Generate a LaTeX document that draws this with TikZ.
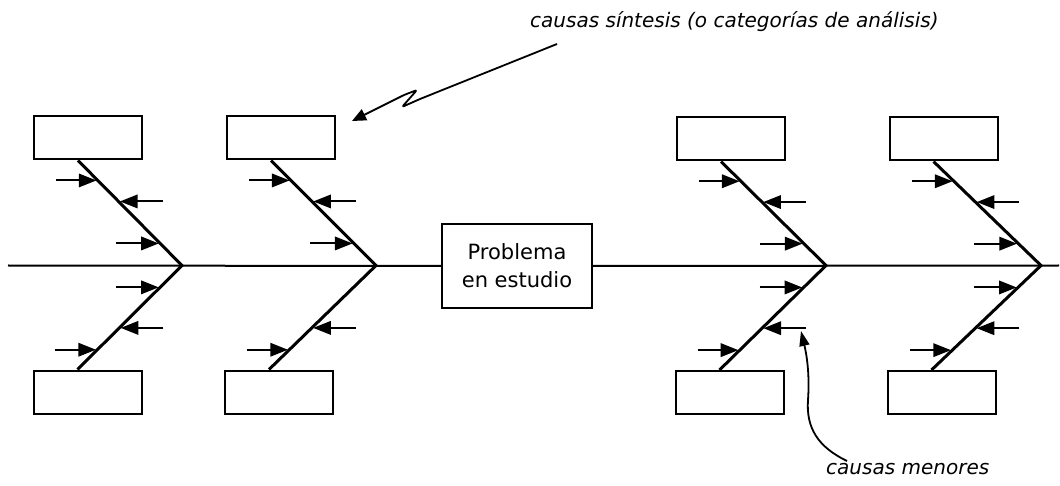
\documentclass[tikz,border=0pt]{standalone}
\usepackage{fontspec}
\setmainfont{DejaVu Sans}
\usetikzlibrary{arrows.meta}

% small cause arrow pointing right / left onto a bone point #2
\newcommand\causeright[2][42]{%
  \draw[shaft] ([xshift=-#1pt]#2) -- ([xshift=-10pt]#2);
  \fill ([xshift=-1.5pt]#2) -- ([xshift=-19pt,yshift=7pt]#2)
        -- ([xshift=-19pt,yshift=-7pt]#2) -- cycle;}
\newcommand\causeleft[2][44]{%
  \draw[shaft] ([xshift=#1pt]#2) -- ([xshift=10pt]#2);
  \fill ([xshift=1.5pt]#2) -- ([xshift=19pt,yshift=7pt]#2)
        -- ([xshift=19pt,yshift=-7pt]#2) -- cycle;}

% one fishbone: boxes, two bones, five small cause arrows
% #1 id, #2 top box centre, #3 bottom box centre, #4 apex on the spine
\newcommand\fishbone[4]{%
  \node[catbox] (t#1) at (#2) {};
  \node[catbox] (b#1) at (#3) {};
  \coordinate (a#1) at (#4);
  \draw[bone] ([xshift=-10pt]t#1.south) coordinate (ts#1) -- (a#1)
              -- ([xshift=-10pt]b#1.north) coordinate (bs#1);
  \path (ts#1) -- (a#1) coordinate[pos=0.19] (tp#1a)
                        coordinate[pos=0.39] (tp#1b)
                        coordinate[pos=0.79] (tp#1c);
  \path (bs#1) -- (a#1) coordinate[pos=0.19] (bp#1a)
                        coordinate[pos=0.40] (bp#1b)
                        coordinate[pos=0.79] (bp#1c);
  \causeright{tp#1a}
  \causeleft{tp#1b}
  \causeright[44]{tp#1c}
  \causeright{bp#1a}
  \causeleft{bp#1b}
}

\begin{document}
\begin{tikzpicture}[x=1pt,y=-1pt,
  catbox/.style={draw,line width=2pt,minimum width=108pt,minimum height=43pt,inner sep=0pt},
  probbox/.style={draw,line width=2pt,minimum width=150pt,minimum height=84pt,
                  inner sep=0pt,align=center,font=\fontsize{21}{28}\selectfont},
  bone/.style={line width=3pt},
  spine/.style={line width=2pt},
  shaft/.style={line width=2pt},
  note/.style={font=\itshape\fontsize{20}{24}\selectfont,inner sep=0pt},
  pointer/.style={line width=1.8pt,line join=round},
]
\useasboundingbox (0,0) rectangle (1060,486);

% spine and problem box
\coordinate (s0) at (8,265.5);
\coordinate (s1) at (1059,265.5);
\node[probbox] (prob) at (517,266) {Problema\\en estudio};
\draw[spine] (s0) -- (prob.west);
\draw[spine] (prob.east) -- (s1);

% the four fishbones
\fishbone{1}{88,138}{87.5,392}{182,265.5}
\fishbone{2}{281,138}{279,392}{376,265.5}
\fishbone{3}{731,139}{729.5,392.5}{826,265.5}
\fishbone{4}{943.5,139}{941.5,392.5}{1041,265.5}
\causeright[44]{bp1c}
\causeright[44]{bp3c}
\causeright[44]{bp4c}

% annotation: synthesis causes
\node[note,anchor=west] (syn) at (530,22) {causas síntesis (o categorías de análisis)};
\coordinate (synstart) at (557,44);
\coordinate (synend) at (352,121);
\draw[pointer,rounded corners=1.5pt,-{Triangle[length=14pt,width=12pt]}]
  (synstart) -- (420,99) -- (402,107) -- (417,90) -- (404,95) -- (synend);

% annotation: minor causes
\node[note,anchor=west] (menor) at (826,469) {causas menores};
\coordinate (menstart) at (847,461);
\coordinate (menend) at (801,331);
\draw[pointer,-{Triangle[length=15pt,width=10pt]}]
  (menstart) .. controls (818,447) and (806,428) .. (808,400)
  .. controls (810,372) and (806,352) .. (menend);
\end{tikzpicture}
\end{document}
